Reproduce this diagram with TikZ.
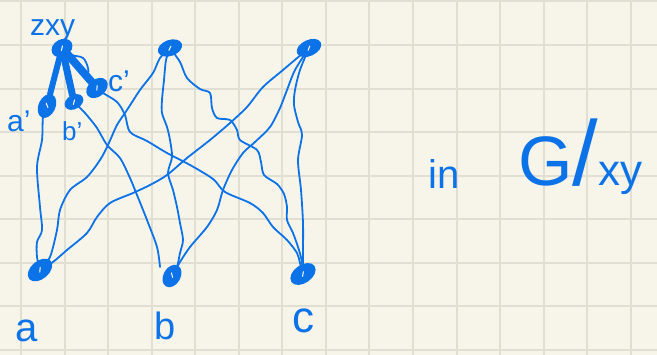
\documentclass[tikz,border=0pt]{standalone}
\usepackage{fontspec}
\setmainfont{Liberation Sans}
\usetikzlibrary{shapes.geometric}
\definecolor{ink}{RGB}{12,114,232}
\definecolor{paper}{RGB}{247,245,234}
\definecolor{gridc}{RGB}{225,222,210}
\pgfdeclarelayer{edges}
\pgfdeclarelayer{paperlayer}
\pgfsetlayers{paperlayer,edges,main}
\tikzset{
  vtx/.style n args={3}{ellipse, fill=ink, draw=ink, line width=2pt, inner sep=0pt,
    minimum width=#1, minimum height=#2, rotate=#3,
    path picture={\draw[white, line width=1pt, line cap=round]
      ([xshift=-1.8pt,yshift=-1.8pt]path picture bounding box.center) --
      ([xshift=1.5pt,yshift=1.5pt]path picture bounding box.center);}},
  wire/.style={draw=ink, line width=1.8pt, line cap=round, line join=round},
  thick wire/.style={draw=ink, line width=#1, line cap=round},
  lbl/.style={text=ink, inner sep=0pt, anchor=base west}
}
\begin{document}
\begin{tikzpicture}[x=1pt, y=-1pt]
\useasboundingbox (0,0) rectangle (657,355);
\begin{pgfonlayer}{paperlayer}
  \fill[paper] (0,0) rectangle (657,355);
  \foreach \k in {0,...,14} {
    \draw[gridc, line width=2pt] ({21+43.55*\k},0) -- ({21+43.55*\k},355);
  }
  \foreach \k in {0,...,8} {
    \draw[gridc, line width=2pt] (0,{1.5+43.55*\k}) -- (657,{1.5+43.55*\k});
  }
\end{pgfonlayer}

% vertices
\node[vtx={20pt}{15pt}{30}] (zxy) at (62,48) {};
\node[vtx={23pt}{15pt}{65}] (ap) at (47,106) {};
\node[vtx={18pt}{12pt}{30}] (bp) at (74,102) {};
\node[vtx={22pt}{15pt}{40}] (cp) at (97,88) {};
\node[vtx={23pt}{14pt}{20}] (tm) at (170,48) {};
\node[vtx={24pt}{14pt}{25}] (tr) at (309,48) {};
\node[vtx={26pt}{16pt}{40}] (a) at (40,270) {};
\node[vtx={22pt}{15pt}{60}] (b) at (172,276) {};
\node[vtx={26pt}{16pt}{35}] (c) at (303,274) {};

\begin{pgfonlayer}{edges}
  % contracted star
  \draw[thick wire=6pt] (zxy) -- (ap);
  \draw[thick wire=7pt] (zxy) -- (bp);
  \draw[thick wire=8pt] (zxy) -- (cp);
  \draw[wire] plot[smooth, tension=0.6] coordinates {(zxy) (72,55) (83,58) (88,68) (89,79) (cp)};
  % primed to bottom
  \draw[wire] plot[smooth, tension=0.5] coordinates {(ap) (43,117) (42,140) (37,167) (40,207) (42,230) (37,242) (37,257) (a)};
  \draw[wire] plot[smooth, tension=0.5] coordinates {(bp) (85,113) (97,128) (107,145) (120,158) (130,178) (137,195) (147,220) (157,247) (160,267)};
  \draw[wire] plot[smooth, tension=0.5] coordinates {(cp) (103,93) (117,102) (125,115) (130,132) (147,141) (167,153) (190,165) (213,179) (225,192) (250,203) (263,213) (273,227) (287,240) (297,253) (300,263) (c)};
  % top middle
  \draw[wire] plot[smooth, tension=0.5] coordinates {(tm) (160,58) (153,73) (140,90) (127,110) (117,125) (108,145) (100,160) (87,177) (70,190) (60,210) (57,230) (50,257) (a)};
  \draw[wire] plot[smooth, tension=0.5] coordinates {(tm) (166,60) (164,80) (162,100) (162,113) (167,127) (170,140) (172,157) (168,173) (173,190) (177,207) (180,223) (183,240) (180,253) (177,267) (b)};
  \draw[wire] plot[smooth, tension=0.5] coordinates {(tm) (180,62) (187,78) (200,89) (210,93) (212,108) (217,118) (230,120) (237,130) (240,140) (257,150) (261,162) (264,175) (277,184) (284,194) (287,207) (287,220) (293,233) (299,250) (302,262) (c)};
  % top right
  \draw[wire] plot[smooth, tension=0.5] coordinates {(tr) (283,70) (263,87) (247,107) (230,123) (210,140) (187,158) (167,175) (150,185) (133,193) (110,203) (97,217) (87,233) (67,250) (53,262) (a)};
  \draw[wire] plot[smooth, tension=0.5] coordinates {(tr) (295,70) (287,90) (280,108) (270,127) (255,142) (243,153) (232,170) (223,190) (217,210) (207,227) (190,247) (180,262) (b)};
  \draw[wire] plot[smooth, tension=0.5] coordinates {(tr) (300,70) (295,90) (294,105) (298,122) (302,135) (298,160) (301,190) (303,223) (303,253) (c)};
\end{pgfonlayer}

% labels
\node[lbl, font=\fontsize{30}{30}\selectfont] (lzxy) at (30,36) {zxy};
\node[lbl, font=\fontsize{30}{30}\selectfont] (lap) at (7,132) {a'};
\node[lbl, font=\fontsize{26}{26}\selectfont] (lbp) at (62,141) {b'};
\node[lbl, font=\fontsize{30}{30}\selectfont] (lcp) at (108,92) {c'};
\node[lbl, font=\fontsize{40}{40}\selectfont] (la) at (15,342) {a};
\node[lbl, font=\fontsize{38}{38}\selectfont] (lb) at (154,340) {b};
\node[lbl, font=\fontsize{44}{44}\selectfont] (lc) at (292,333) {c};
\node[lbl, font=\fontsize{40}{40}\selectfont] (lin) at (428,189) {in};
\node[lbl] (lg) at (518,186) {\fontsize{70}{70}\selectfont G\fontsize{92}{92}\selectfont /\fontsize{44}{44}\selectfont xy};
\end{tikzpicture}
\end{document}
